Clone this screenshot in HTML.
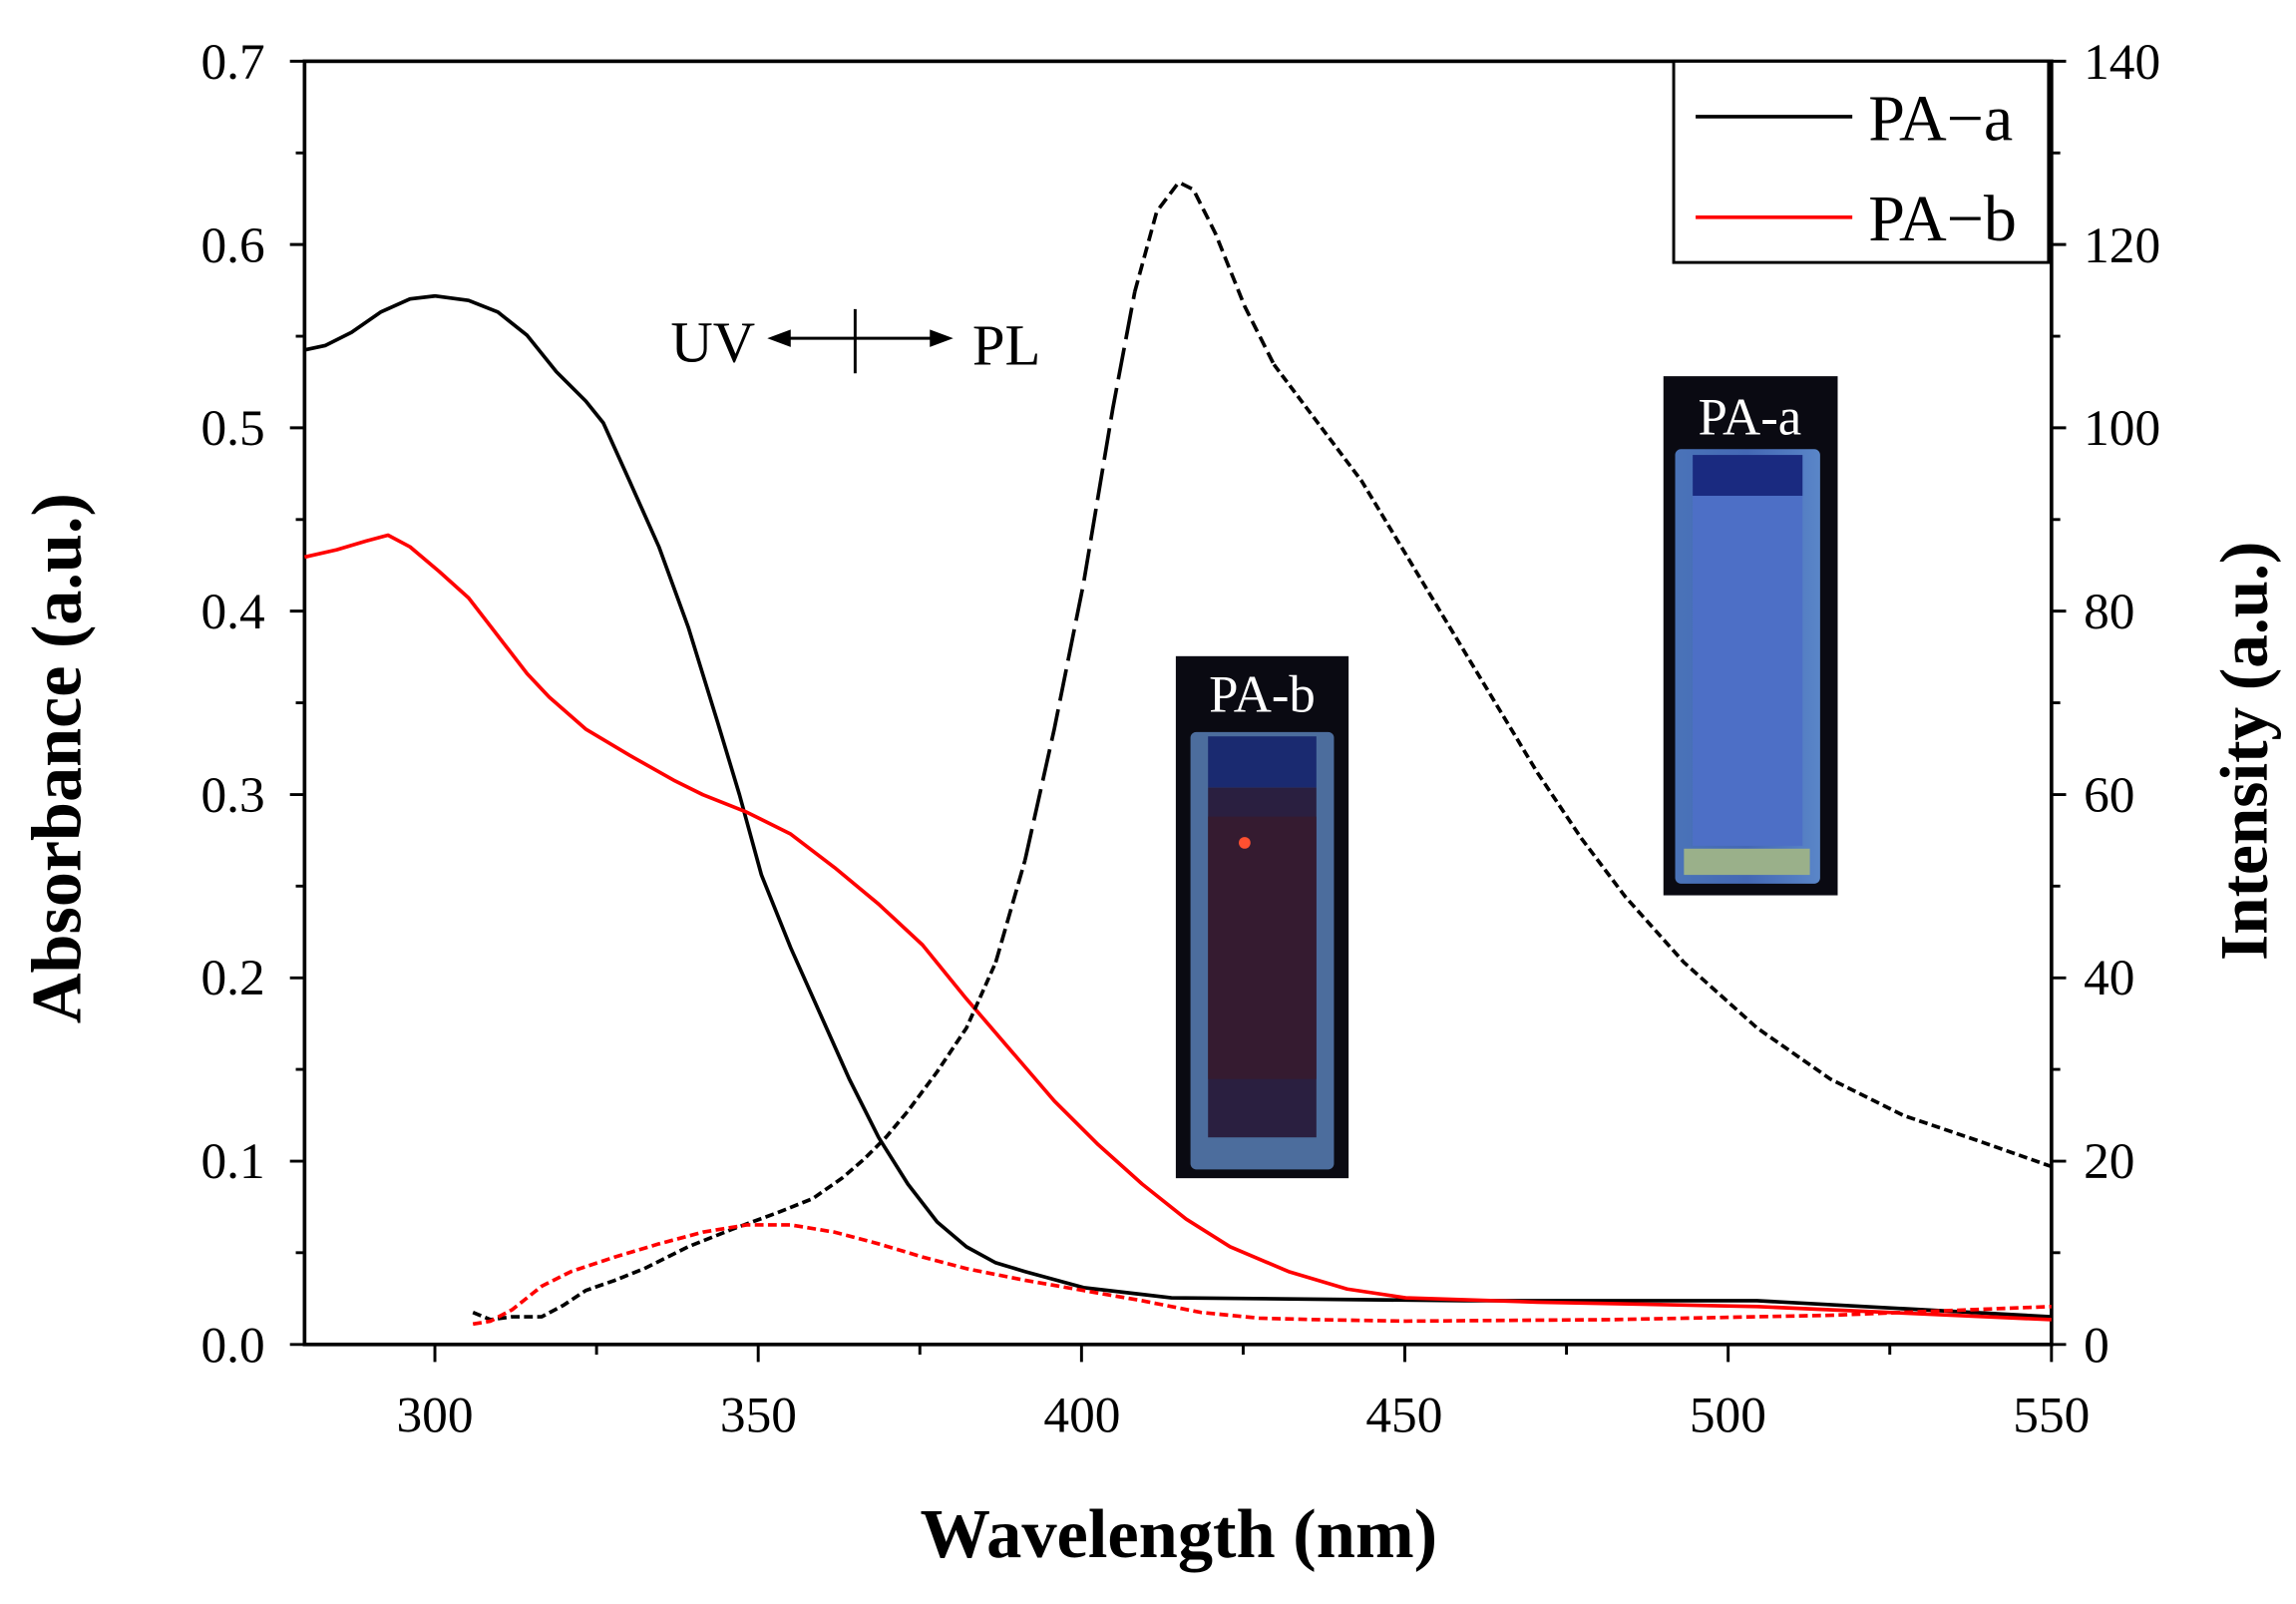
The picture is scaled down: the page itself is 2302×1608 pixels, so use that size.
<!DOCTYPE html>
<html><head><style>html,body{margin:0;padding:0;background:#fff}svg{display:block}</style></head><body>
<svg width="2302" height="1608" viewBox="0 0 1568 1100" preserveAspectRatio="none" xmlns="http://www.w3.org/2000/svg" font-family="Liberation Serif, serif">
<defs>
<linearGradient id="cuv" x1="0" x2="1"><stop offset="0" stop-color="#4a73b8"/><stop offset="0.5" stop-color="#4468b5"/><stop offset="1" stop-color="#5a86c8"/></linearGradient>
</defs>
<rect x="0" y="0" width="1568" height="1100" fill="#fff"/>
<g>
<rect x="803" y="450" width="118" height="358" fill="#0a0a12"/>
<text x="862" y="488" font-size="36" fill="#fff" text-anchor="middle">PA-b</text>
<rect x="813" y="502" width="98" height="300" rx="4" fill="#5c86c0" opacity="0.8"/>
<rect x="825" y="540" width="74" height="240" fill="#2a1f40"/>
<rect x="825" y="560" width="74" height="180" fill="#3a1a2a" opacity="0.7"/>
<rect x="825" y="505" width="74" height="35" fill="#1a2a70"/>
<circle cx="850" cy="578" r="4" fill="#ff5030"/>
<rect x="1136" y="258" width="119" height="356" fill="#0a0a12"/>
<text x="1195" y="298" font-size="36" fill="#fff" text-anchor="middle">PA-a</text>
<rect x="1144" y="308" width="99" height="298" rx="4" fill="url(#cuv)"/>
<rect x="1156" y="340" width="75" height="240" fill="#4d6fc6"/>
<rect x="1156" y="312" width="75" height="28" fill="#1a2a80"/>
<rect x="1150" y="582" width="86" height="18" fill="#9ab08a"/>
</g>
<rect x="208" y="42" width="1193" height="880" fill="none" stroke="#000" stroke-width="2.5"/>
<g stroke="#000" stroke-width="2">
<path d="M198 922H208M198 796.3H208M198 670.6H208M198 544.9H208M198 419.1H208M198 293.4H208M198 167.7H208M198 42H208"/>
<path d="M202 859.1H208M202 733.4H208M202 607.7H208M202 482H208M202 356.3H208M202 230.6H208M202 104.9H208"/>
<path d="M1401 922H1411M1401 796.3H1411M1401 670.6H1411M1401 544.9H1411M1401 419.1H1411M1401 293.4H1411M1401 167.7H1411M1401 42H1411"/>
<path d="M1401 859.1H1407M1401 733.4H1407M1401 607.7H1407M1401 482H1407M1401 356.3H1407M1401 230.6H1407M1401 104.9H1407"/>
<path d="M297 922V934M517.8 922V934M738.6 922V934M959.4 922V934M1180.2 922V934M1401 922V934"/>
<path d="M407.4 922V929M628.2 922V929M849 922V929M1069.8 922V929M1290.6 922V929"/>
</g>
<g font-size="35" fill="#000">
<g text-anchor="end">
<text x="181" y="934">0.0</text><text x="181" y="808">0.1</text><text x="181" y="682">0.2</text><text x="181" y="557">0.3</text><text x="181" y="431">0.4</text><text x="181" y="305">0.5</text><text x="181" y="180">0.6</text><text x="181" y="54">0.7</text>
</g>
<g text-anchor="start">
<text x="1423" y="934">0</text><text x="1423" y="808">20</text><text x="1423" y="682">40</text><text x="1423" y="557">60</text><text x="1423" y="431">80</text><text x="1423" y="305">100</text><text x="1423" y="180">120</text><text x="1423" y="54">140</text>
</g>
<g text-anchor="middle">
<text x="297" y="982">300</text><text x="518" y="982">350</text><text x="739" y="982">400</text><text x="959" y="982">450</text><text x="1180" y="982">500</text><text x="1401" y="982">550</text>
</g>
</g>
<text x="805" y="1068" font-size="48" font-weight="bold" text-anchor="middle">Wavelength (nm)</text>
<text transform="translate(55,520) rotate(-90)" font-size="48" font-weight="bold" text-anchor="middle">Absorbance (a.u.)</text>
<text transform="translate(1548,515) rotate(-90)" font-size="46" font-weight="bold" text-anchor="middle">Intensity (a.u.)</text>
<g fill="none" stroke-width="2.5" stroke-linejoin="round">
<polyline stroke="#000" points="208,240 222,237 240,228 260,214 280,205 297,203 320,206 340,214 360,230 380,255 400,275 412,290 430,330 450,375 470,430 490,495 505,545 520,600 540,650 560,695 580,740 600,780 620,812 640,838 660,855 680,866 700,872 740,883 800,890 1000,892 1200,892 1401,903"/>
<polyline stroke="#f00" points="208,382 230,377 250,371 265,367 280,375 300,392 320,410 340,436 360,462 375,478 400,500 430,518 460,535 480,545 510,557 540,572 570,595 600,620 630,648 660,685 690,720 720,755 750,785 780,812 810,836 840,855 880,872 920,884 960,890 1050,893 1200,896 1401,905"/>
<polyline stroke="#000" stroke-dasharray="6,3" points="323,900 335,905 350,903 370,903 385,895 400,885 420,878 440,870 470,855 500,843 530,832 555,822 575,808 590,795 605,780 620,762 640,735 660,705 680,660"/>
<polyline stroke="#000" stroke-dasharray="10,4" points="680,660 700,590"/>
<polyline stroke="#000" stroke-dasharray="22,6" points="700,590 720,500 740,400 760,280 775,200"/>
<polyline stroke="#000" stroke-dasharray="8,4" points="775,200 790,145 805,125 815,130 830,160 850,210 870,250"/>
<polyline stroke="#000" stroke-dasharray="6,3" points="870,250 900,290 930,330 960,380 990,430 1020,480 1050,530 1080,575 1110,615 1150,660 1200,705 1250,740 1300,765 1350,782 1401,800"/>
<polyline stroke="#f00" stroke-dasharray="6,3" points="323,908 335,906 350,898 370,882 390,872 420,862 450,853 480,845 510,840 540,840 570,845 600,853 630,862 660,870 700,878 740,885 780,892 820,900 860,904 900,905 960,906 1100,905 1250,902 1401,896"/>
</g>
<text x="458" y="248" font-size="40">UV</text>
<text x="664" y="250" font-size="40">PL</text>
<g stroke="#000" stroke-width="2"><path d="M530 232H645M584 212V256"/></g>
<path d="M524 232L540 226L540 238Z M651 232L635 226L635 238Z" fill="#000"/>
<rect x="1143" y="42" width="256" height="138" fill="#fff" stroke="#000" stroke-width="2"/>
<line x1="1158" y1="80" x2="1265" y2="80" stroke="#000" stroke-width="2.5"/>
<line x1="1158" y1="149" x2="1265" y2="149" stroke="#f00" stroke-width="2.5"/>
<text x="1276" y="96" font-size="45">PA−a</text>
<text x="1276" y="165" font-size="45">PA−b</text>
</svg>
</body></html>
